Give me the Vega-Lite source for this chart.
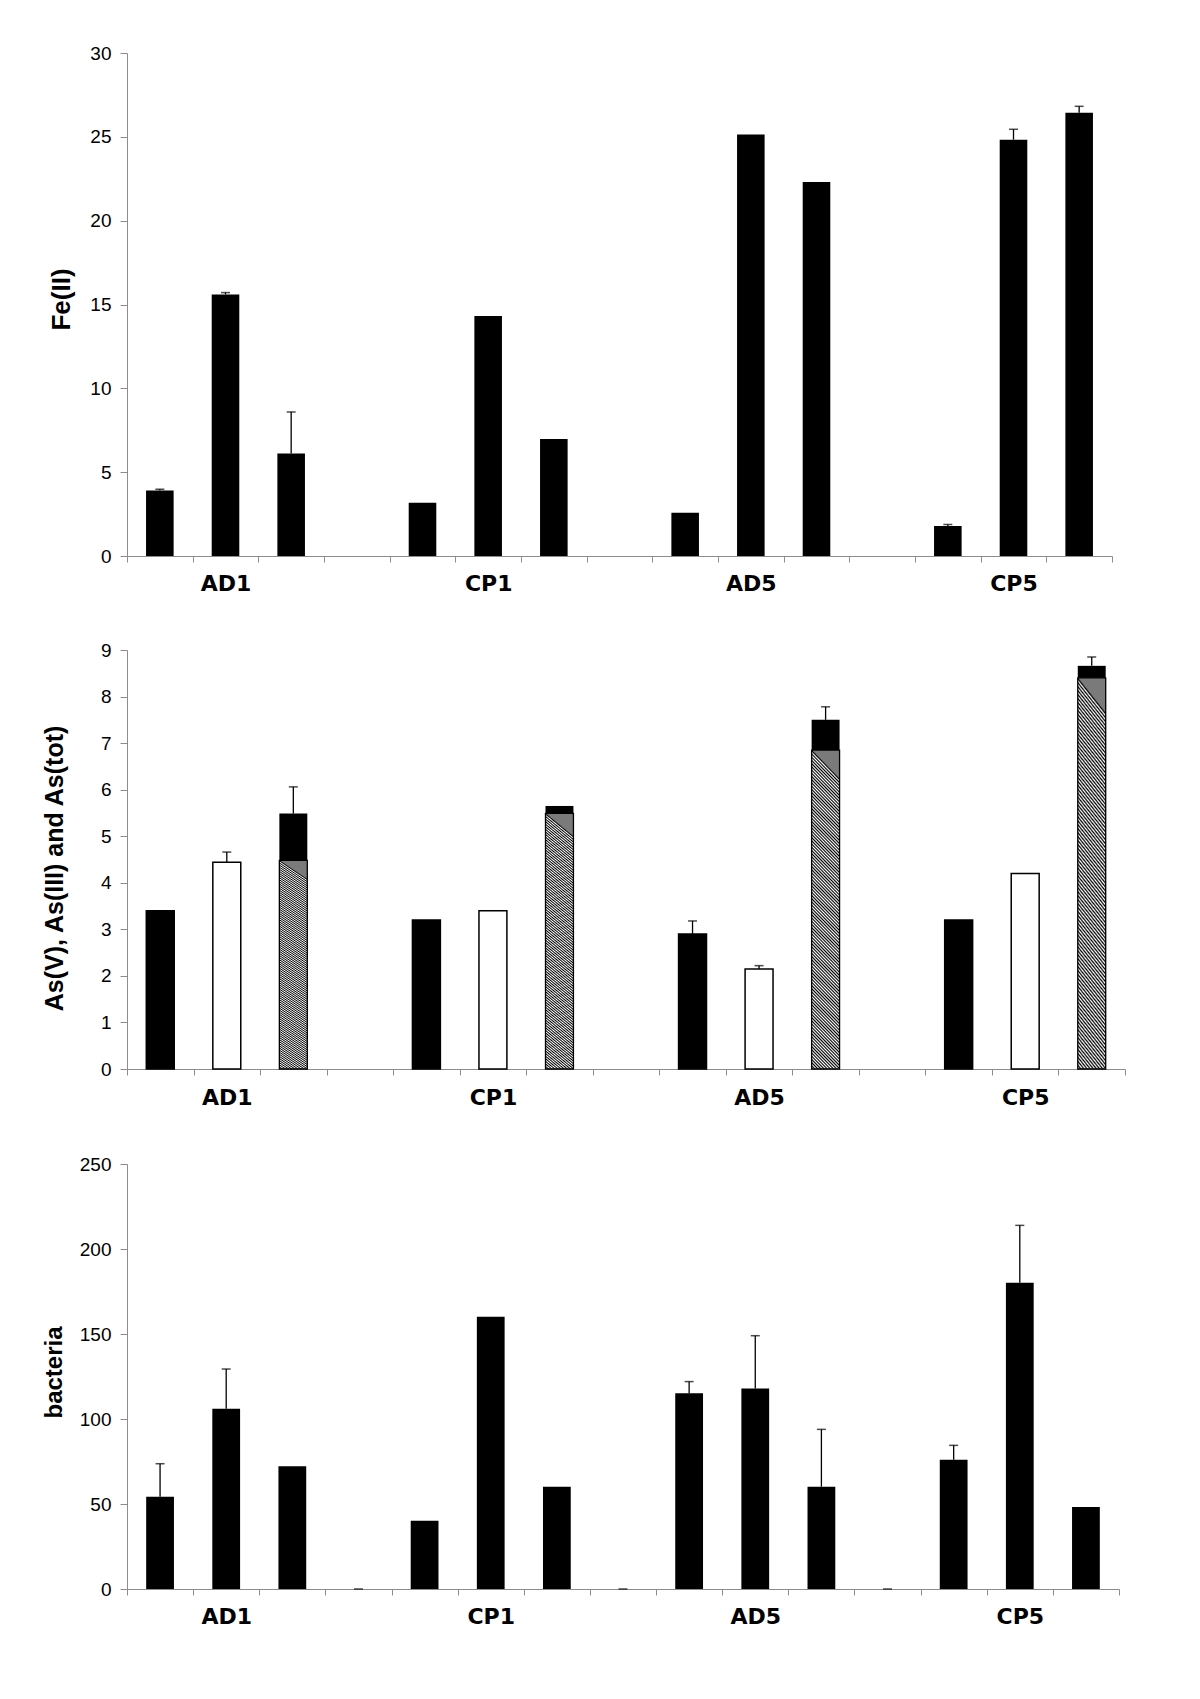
{
  "$schema": "https://vega.github.io/schema/vega-lite/v6.json",
  "background": "white",
  "padding": {"left": 42, "top": 44, "right": 5, "bottom": 5},
  "spacing": 47,
  "config": {
    "view": {"stroke": null},
    "axis": {
      "domainColor": "#8c8c8c", "tickColor": "#8c8c8c", "domainWidth": 1, "tickWidth": 1,
      "labelFont": "Liberation Sans", "labelFontSize": 19, "labelColor": "#000",
      "titleFont": "Liberation Sans", "titleFontWeight": "bold", "titleColor": "#000", "grid": false
    },
    "axisX": {"labelFont": "DejaVu Sans", "labelFontWeight": "bold", "labelFontSize": 22, "labelAngle": 0, "labelPadding": 11, "tickSize": 6, "tickBand": "extent", "labelOverlap": false},
    "axisY": {"labelPadding": 9, "tickSize": 7, "titleBaseline": "middle", "titleAngle": 270}
  },
  "vconcat": [
    {
      "width": 985, "height": 503,
      "data": {"values": [
        {"slot": "AD1-1", "value": 3.9, "hi": 3.98},
        {"slot": "AD1-2", "value": 15.6, "hi": 15.71},
        {"slot": "AD1-3", "value": 6.12, "hi": 8.59},
        {"slot": "CP1-1", "value": 3.18},
        {"slot": "CP1-2", "value": 14.31},
        {"slot": "CP1-3", "value": 6.98},
        {"slot": "AD5-1", "value": 2.58},
        {"slot": "AD5-2", "value": 25.14},
        {"slot": "AD5-3", "value": 22.31},
        {"slot": "CP5-1", "value": 1.79, "hi": 1.88},
        {"slot": "CP5-2", "value": 24.83, "hi": 25.45},
        {"slot": "CP5-3", "value": 26.44, "hi": 26.82}
      ]},
      "encoding": {
        "x": {"field": "slot", "type": "nominal", "title": null,
          "scale": {"domain": ["AD1-1","AD1-2","AD1-3","g1","CP1-1","CP1-2","CP1-3","g2","AD5-1","AD5-2","AD5-3","g3","CP5-1","CP5-2","CP5-3"], "paddingInner": 0, "paddingOuter": 0},
          "axis": {"labelExpr": "substring(datum.value, 4) == '2' ? substring(datum.value, 0, 3) : ''"}}
      },
      "layer": [
        {"mark": {"type": "bar", "color": "#000", "width": {"band": 0.42}},
         "encoding": {"y": {"field": "value", "type": "quantitative", "scale": {"domain": [0, 30], "nice": false},
           "axis": {"values": [0,5,10,15,20,25,30], "title": "Fe(II)", "titleFontSize": 26, "titleX": -66, "titleY": 246}}}},
        {"transform": [{"filter": "isValid(datum.hi)"}],
         "mark": {"type": "rule", "color": "#000", "strokeWidth": 1.3},
         "encoding": {"y": {"field": "value", "type": "quantitative"}, "y2": {"field": "hi"}}},
        {"transform": [{"filter": "isValid(datum.hi)"}],
         "mark": {"type": "tick", "color": "#000", "size": 9, "thickness": 1.5},
         "encoding": {"y": {"field": "hi", "type": "quantitative"}}}
      ]
    },
    {
      "width": 998, "height": 419,
      "data": {"values": [
        {"slot": "AD1-1", "species": "As(V)", "value": 3.4},
        {"slot": "AD1-2", "species": "As(III)", "value": 4.44, "hi": 4.66},
        {"slot": "AD1-3", "species": "As(tot)", "low": 4.48, "value": 5.49, "hi": 6.06},
        {"slot": "CP1-1", "species": "As(V)", "value": 3.2},
        {"slot": "CP1-2", "species": "As(III)", "value": 3.4},
        {"slot": "CP1-3", "species": "As(tot)", "low": 5.49, "value": 5.65},
        {"slot": "AD5-1", "species": "As(V)", "value": 2.9, "hi": 3.18},
        {"slot": "AD5-2", "species": "As(III)", "value": 2.15, "hi": 2.22},
        {"slot": "AD5-3", "species": "As(tot)", "low": 6.85, "value": 7.5, "hi": 7.78},
        {"slot": "CP5-1", "species": "As(V)", "value": 3.2},
        {"slot": "CP5-2", "species": "As(III)", "value": 4.2},
        {"slot": "CP5-3", "species": "As(tot)", "low": 8.4, "value": 8.66, "hi": 8.85}
      ]},
      "encoding": {
        "x": {"field": "slot", "type": "nominal", "title": null,
          "scale": {"domain": ["AD1-1","AD1-2","AD1-3","g1","CP1-1","CP1-2","CP1-3","g2","AD5-1","AD5-2","AD5-3","g3","CP5-1","CP5-2","CP5-3"], "paddingInner": 0, "paddingOuter": 0},
          "axis": {"labelPadding": 12, "labelExpr": "substring(datum.value, 4) == '2' ? substring(datum.value, 0, 3) : ''"}}
      },
      "layer": [
        {"transform": [{"filter": "datum.species != 'As(tot)'"}],
         "mark": {"type": "bar", "stroke": "#000", "strokeWidth": 1.5, "width": {"band": 0.42}},
         "encoding": {
           "y": {"field": "value", "type": "quantitative", "scale": {"domain": [0, 9], "nice": false},
             "axis": {"values": [0,1,2,3,4,5,6,7,8,9], "title": "As(V), As(III) and As(tot)", "titleFontSize": 25, "titleX": -73, "titleY": 218}},
           "fill": {"field": "species", "type": "nominal", "scale": {"domain": ["As(V)", "As(III)"], "range": ["#000000", "#ffffff"]}, "legend": null}}},
        {"transform": [{"filter": "datum.species == 'As(tot)'"}],
         "mark": {"type": "bar", "stroke": "#000", "strokeWidth": 1.3, "width": {"band": 0.42},
           "fill": {"gradient": "linear", "x1": 0, "y1": 1, "x2": 0.09, "y2": 0, "stops": [
{"offset":0,"color":"#000"},{"offset":0.005,"color":"#fff"},{"offset":0.01,"color":"#000"},{"offset":0.015,"color":"#fff"},{"offset":0.02,"color":"#000"},{"offset":0.025,"color":"#fff"},{"offset":0.03,"color":"#000"},{"offset":0.035,"color":"#fff"},{"offset":0.04,"color":"#000"},{"offset":0.045,"color":"#fff"},
{"offset":0.05,"color":"#000"},{"offset":0.055,"color":"#fff"},{"offset":0.06,"color":"#000"},{"offset":0.065,"color":"#fff"},{"offset":0.07,"color":"#000"},{"offset":0.075,"color":"#fff"},{"offset":0.08,"color":"#000"},{"offset":0.085,"color":"#fff"},{"offset":0.09,"color":"#000"},{"offset":0.095,"color":"#fff"},
{"offset":0.1,"color":"#000"},{"offset":0.105,"color":"#fff"},{"offset":0.11,"color":"#000"},{"offset":0.115,"color":"#fff"},{"offset":0.12,"color":"#000"},{"offset":0.125,"color":"#fff"},{"offset":0.13,"color":"#000"},{"offset":0.135,"color":"#fff"},{"offset":0.14,"color":"#000"},{"offset":0.145,"color":"#fff"},
{"offset":0.15,"color":"#000"},{"offset":0.155,"color":"#fff"},{"offset":0.16,"color":"#000"},{"offset":0.165,"color":"#fff"},{"offset":0.17,"color":"#000"},{"offset":0.175,"color":"#fff"},{"offset":0.18,"color":"#000"},{"offset":0.185,"color":"#fff"},{"offset":0.19,"color":"#000"},{"offset":0.195,"color":"#fff"},
{"offset":0.2,"color":"#000"},{"offset":0.205,"color":"#fff"},{"offset":0.21,"color":"#000"},{"offset":0.215,"color":"#fff"},{"offset":0.22,"color":"#000"},{"offset":0.225,"color":"#fff"},{"offset":0.23,"color":"#000"},{"offset":0.235,"color":"#fff"},{"offset":0.24,"color":"#000"},{"offset":0.245,"color":"#fff"},
{"offset":0.25,"color":"#000"},{"offset":0.255,"color":"#fff"},{"offset":0.26,"color":"#000"},{"offset":0.265,"color":"#fff"},{"offset":0.27,"color":"#000"},{"offset":0.275,"color":"#fff"},{"offset":0.28,"color":"#000"},{"offset":0.285,"color":"#fff"},{"offset":0.29,"color":"#000"},{"offset":0.295,"color":"#fff"},
{"offset":0.3,"color":"#000"},{"offset":0.305,"color":"#fff"},{"offset":0.31,"color":"#000"},{"offset":0.315,"color":"#fff"},{"offset":0.32,"color":"#000"},{"offset":0.325,"color":"#fff"},{"offset":0.33,"color":"#000"},{"offset":0.335,"color":"#fff"},{"offset":0.34,"color":"#000"},{"offset":0.345,"color":"#fff"},
{"offset":0.35,"color":"#000"},{"offset":0.355,"color":"#fff"},{"offset":0.36,"color":"#000"},{"offset":0.365,"color":"#fff"},{"offset":0.37,"color":"#000"},{"offset":0.375,"color":"#fff"},{"offset":0.38,"color":"#000"},{"offset":0.385,"color":"#fff"},{"offset":0.39,"color":"#000"},{"offset":0.395,"color":"#fff"},
{"offset":0.4,"color":"#000"},{"offset":0.405,"color":"#fff"},{"offset":0.41,"color":"#000"},{"offset":0.415,"color":"#fff"},{"offset":0.42,"color":"#000"},{"offset":0.425,"color":"#fff"},{"offset":0.43,"color":"#000"},{"offset":0.435,"color":"#fff"},{"offset":0.44,"color":"#000"},{"offset":0.445,"color":"#fff"},
{"offset":0.45,"color":"#000"},{"offset":0.455,"color":"#fff"},{"offset":0.46,"color":"#000"},{"offset":0.465,"color":"#fff"},{"offset":0.47,"color":"#000"},{"offset":0.475,"color":"#fff"},{"offset":0.48,"color":"#000"},{"offset":0.485,"color":"#fff"},{"offset":0.49,"color":"#000"},{"offset":0.495,"color":"#fff"},
{"offset":0.5,"color":"#000"},{"offset":0.505,"color":"#fff"},{"offset":0.51,"color":"#000"},{"offset":0.515,"color":"#fff"},{"offset":0.52,"color":"#000"},{"offset":0.525,"color":"#fff"},{"offset":0.53,"color":"#000"},{"offset":0.535,"color":"#fff"},{"offset":0.54,"color":"#000"},{"offset":0.545,"color":"#fff"},
{"offset":0.55,"color":"#000"},{"offset":0.555,"color":"#fff"},{"offset":0.56,"color":"#000"},{"offset":0.565,"color":"#fff"},{"offset":0.57,"color":"#000"},{"offset":0.575,"color":"#fff"},{"offset":0.58,"color":"#000"},{"offset":0.585,"color":"#fff"},{"offset":0.59,"color":"#000"},{"offset":0.595,"color":"#fff"},
{"offset":0.6,"color":"#000"},{"offset":0.605,"color":"#fff"},{"offset":0.61,"color":"#000"},{"offset":0.615,"color":"#fff"},{"offset":0.62,"color":"#000"},{"offset":0.625,"color":"#fff"},{"offset":0.63,"color":"#000"},{"offset":0.635,"color":"#fff"},{"offset":0.64,"color":"#000"},{"offset":0.645,"color":"#fff"},
{"offset":0.65,"color":"#000"},{"offset":0.655,"color":"#fff"},{"offset":0.66,"color":"#000"},{"offset":0.665,"color":"#fff"},{"offset":0.67,"color":"#000"},{"offset":0.675,"color":"#fff"},{"offset":0.68,"color":"#000"},{"offset":0.685,"color":"#fff"},{"offset":0.69,"color":"#000"},{"offset":0.695,"color":"#fff"},
{"offset":0.7,"color":"#000"},{"offset":0.705,"color":"#fff"},{"offset":0.71,"color":"#000"},{"offset":0.715,"color":"#fff"},{"offset":0.72,"color":"#000"},{"offset":0.725,"color":"#fff"},{"offset":0.73,"color":"#000"},{"offset":0.735,"color":"#fff"},{"offset":0.74,"color":"#000"},{"offset":0.745,"color":"#fff"},
{"offset":0.75,"color":"#000"},{"offset":0.755,"color":"#fff"},{"offset":0.76,"color":"#000"},{"offset":0.765,"color":"#fff"},{"offset":0.77,"color":"#000"},{"offset":0.775,"color":"#fff"},{"offset":0.78,"color":"#000"},{"offset":0.785,"color":"#fff"},{"offset":0.79,"color":"#000"},{"offset":0.795,"color":"#fff"},
{"offset":0.8,"color":"#000"},{"offset":0.805,"color":"#fff"},{"offset":0.81,"color":"#000"},{"offset":0.815,"color":"#fff"},{"offset":0.82,"color":"#000"},{"offset":0.825,"color":"#fff"},{"offset":0.83,"color":"#000"},{"offset":0.835,"color":"#fff"},{"offset":0.84,"color":"#000"},{"offset":0.845,"color":"#fff"},
{"offset":0.85,"color":"#000"},{"offset":0.855,"color":"#fff"},{"offset":0.86,"color":"#000"},{"offset":0.865,"color":"#fff"},{"offset":0.87,"color":"#000"},{"offset":0.875,"color":"#fff"},{"offset":0.88,"color":"#000"},{"offset":0.885,"color":"#fff"},{"offset":0.89,"color":"#000"},{"offset":0.895,"color":"#fff"},
{"offset":0.9,"color":"#000"},{"offset":0.905,"color":"#fff"},{"offset":0.91,"color":"#000"},{"offset":0.915,"color":"#fff"},{"offset":0.92,"color":"#000"},{"offset":0.925,"color":"#fff"},{"offset":0.93,"color":"#000"},{"offset":0.935,"color":"#fff"},{"offset":0.94,"color":"#000"},{"offset":0.945,"color":"#fff"},
{"offset":0.95,"color":"#000"},{"offset":0.955,"color":"#fff"},{"offset":0.96,"color":"#000"},{"offset":0.965,"color":"#fff"},{"offset":0.97,"color":"#000"},{"offset":0.975,"color":"#fff"},{"offset":0.98,"color":"#000"},{"offset":0.985,"color":"#fff"},{"offset":0.99,"color":"#000"},{"offset":0.995,"color":"#7a7a7a"},
{"offset":1,"color":"#7a7a7a"}
           ]}},
         "encoding": {"y": {"field": "low", "type": "quantitative"}}},
        {"transform": [{"filter": "datum.species == 'As(tot)'"}],
         "mark": {"type": "bar", "color": "#000", "width": {"band": 0.42}},
         "encoding": {"y": {"field": "low", "type": "quantitative"}, "y2": {"field": "value"}}},
        {"transform": [{"filter": "isValid(datum.hi)"}],
         "mark": {"type": "rule", "color": "#000", "strokeWidth": 1.3},
         "encoding": {"y": {"field": "value", "type": "quantitative"}, "y2": {"field": "hi"}}},
        {"transform": [{"filter": "isValid(datum.hi)"}],
         "mark": {"type": "tick", "color": "#000", "size": 9, "thickness": 1.5},
         "encoding": {"y": {"field": "hi", "type": "quantitative"}}}
      ]
    },
    {
      "width": 992, "height": 425,
      "data": {"values": [
        {"slot": "AD1-1", "value": 54.3, "hi": 73.7},
        {"slot": "AD1-2", "value": 106.1, "hi": 129.4},
        {"slot": "AD1-3", "value": 72.2},
        {"slot": "g1", "value": 0, "hi": 0},
        {"slot": "CP1-1", "value": 40.2},
        {"slot": "CP1-2", "value": 160.2},
        {"slot": "CP1-3", "value": 60.2},
        {"slot": "g2", "value": 0, "hi": 0},
        {"slot": "AD5-1", "value": 115.1, "hi": 122.0},
        {"slot": "AD5-2", "value": 118.0, "hi": 149.0},
        {"slot": "AD5-3", "value": 60.2, "hi": 93.9},
        {"slot": "g3", "value": 0, "hi": 0},
        {"slot": "CP5-1", "value": 76.1, "hi": 84.5},
        {"slot": "CP5-2", "value": 180.2, "hi": 213.9},
        {"slot": "CP5-3", "value": 48.2}
      ]},
      "encoding": {
        "x": {"field": "slot", "type": "nominal", "title": null,
          "scale": {"domain": ["AD1-1","AD1-2","AD1-3","g1","CP1-1","CP1-2","CP1-3","g2","AD5-1","AD5-2","AD5-3","g3","CP5-1","CP5-2","CP5-3"], "paddingInner": 0, "paddingOuter": 0},
          "axis": {"labelExpr": "substring(datum.value, 4) == '2' ? substring(datum.value, 0, 3) : ''"}}
      },
      "layer": [
        {"mark": {"type": "bar", "color": "#000", "width": {"band": 0.42}},
         "encoding": {"y": {"field": "value", "type": "quantitative", "scale": {"domain": [0, 250], "nice": false},
           "axis": {"values": [0,50,100,150,200,250], "title": "bacteria", "titleFontSize": 24, "titleX": -73, "titleY": 208}}}},
        {"transform": [{"filter": "isValid(datum.hi)"}],
         "mark": {"type": "rule", "color": "#000", "strokeWidth": 1.3},
         "encoding": {"y": {"field": "value", "type": "quantitative"}, "y2": {"field": "hi"}}},
        {"transform": [{"filter": "isValid(datum.hi)"}],
         "mark": {"type": "tick", "color": "#000", "size": 9, "thickness": 1.5},
         "encoding": {"y": {"field": "hi", "type": "quantitative"}}}
      ]
    }
  ]
}
